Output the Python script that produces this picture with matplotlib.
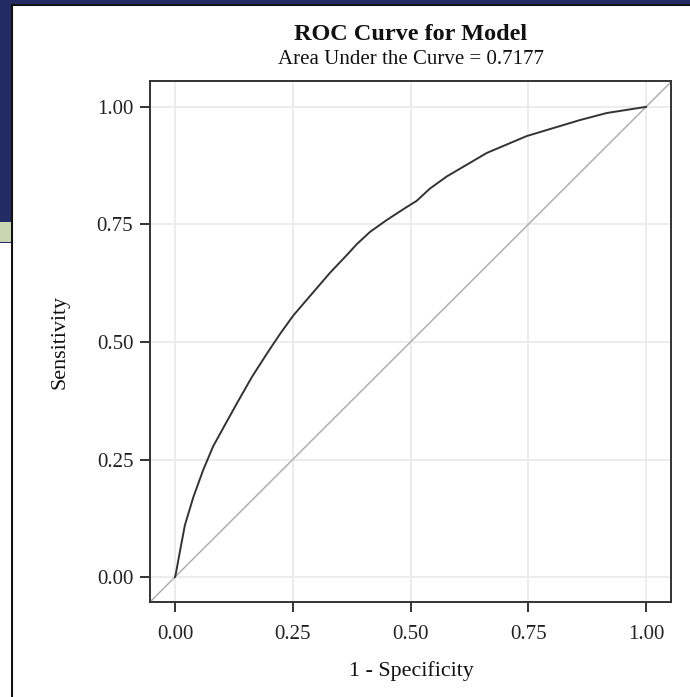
import matplotlib
matplotlib.use("Agg")
import matplotlib.pyplot as plt
from matplotlib.patches import Rectangle

plt.rcParams['font.family'] = ['Liberation Serif', 'DejaVu Serif']

# ROC data
fpr = [0, 0.002, 0.011, 0.021, 0.039, 0.060, 0.081, 0.103, 0.134, 0.163, 0.195,
       0.223, 0.251, 0.280, 0.329, 0.365, 0.386, 0.414, 0.449, 0.492, 0.513,
       0.541, 0.577, 0.662, 0.747, 0.860, 0.917, 1.0]
tpr = [0, 0.008, 0.057, 0.110, 0.170, 0.228, 0.278, 0.318, 0.374, 0.425, 0.475,
       0.517, 0.556, 0.590, 0.647, 0.685, 0.708, 0.734, 0.759, 0.787, 0.800,
       0.826, 0.852, 0.902, 0.938, 0.972, 0.987, 1.0]
ticks = [0.00, 0.25, 0.50, 0.75, 1.00]
tick_labels = ["0.00", "0.25", "0.50", "0.75", "1.00"]
title = "ROC Curve for Model"
subtitle = "Area Under the Curve = 0.7177"
xlabel = "1 - Specificity"
ylabel = "Sensitivity"

W, H = 690, 697
fig = plt.figure(figsize=(W / 100, H / 100), dpi=100)
fig.patch.set_facecolor('#222b63')

def px_rect(x0, y0, x1, y1, **kw):
    # pixel coords with origin top-left
    r = Rectangle((x0 / W, 1 - y1 / H), (x1 - x0) / W, (y1 - y0) / H,
                  transform=fig.transFigure, zorder=-10, **kw)
    fig.patches.append(r)

# white panel, green strip, white lower-left
px_rect(12, 5, W + 2, H + 2, facecolor='white', edgecolor='#111111', linewidth=1.5)
px_rect(0, 222, 11, 242, facecolor='#c9d6b1', edgecolor='none')
px_rect(0, 243, 11, H + 2, facecolor='white', edgecolor='none')

ax = fig.add_axes([150 / W, 1 - 602 / H, (671 - 150) / W, (602 - 81) / H])
ax.set_zorder(5)
ax.set_facecolor('white')
ax.set_xlim(-0.053, 1.053)
ax.set_ylim(-0.053, 1.055)
ax.set_xticks(ticks)
ax.set_xticklabels(tick_labels)
ax.set_yticks(ticks)
ax.set_yticklabels(tick_labels)
ax.grid(True, color='#ebebeb', linewidth=1.3)
ax.set_axisbelow(True)
for s in ax.spines.values():
    s.set_color('#333333')
    s.set_linewidth(1.4)
ax.tick_params(direction='out', length=7, width=1.4, color='#333333',
               labelsize=15, labelcolor='#222222')
ax.tick_params(axis='x', pad=9.5)
ax.tick_params(axis='y', pad=5)

ax.axline((0, 0), (1, 1), color='#b0b0b0', linewidth=1.1)
ax.plot(fpr, tpr, color='#333333', linewidth=1.4)

fig.text(411 / W, 1 - 34 / H, title, ha='center', va='center',
         fontsize=17.5, fontweight='bold', color='#111111')
fig.text(411 / W, 1 - 59 / H, subtitle, ha='center', va='center',
         fontsize=15, color='#111111')
fig.text(411 / W, 1 - 671 / H, xlabel, ha='center', va='center',
         fontsize=15.8, color='#111111')
fig.text(60 / W, 1 - 342 / H, ylabel, ha='center', va='center',
         rotation=90, fontsize=15.8, color='#111111')

fig.savefig('out.png', dpi=100, facecolor=fig.get_facecolor())
